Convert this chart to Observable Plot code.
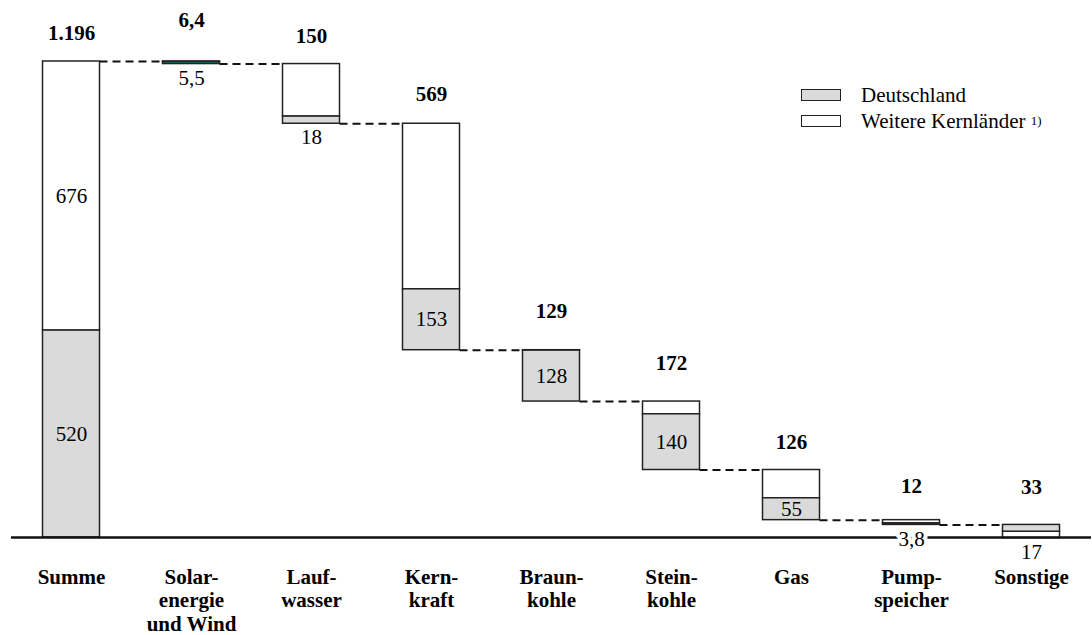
<!DOCTYPE html>
<html><head><meta charset="utf-8">
<script src="https://cdn.jsdelivr.net/npm/d3@7"></script>
<script src="https://cdn.jsdelivr.net/npm/@observablehq/plot@0.6"></script>
<style>
body{margin:0;background:#fff;}
#wrap{position:relative;width:1092px;height:635px;font-family:"Times New Roman",Times,Tinos,"Liberation Serif","Noto Serif","DejaVu Serif",serif;}
.legend{position:absolute;left:801px;top:82px;font-size:21px;color:#000;line-height:1;}
.item{display:flex;align-items:center;height:26px;}
.sw{width:40px;height:12px;border:1.6px solid #222;margin-right:20px;box-sizing:border-box;}
sup{font-size:0.62em;vertical-align:0.55em;}
</style>
</head><body>
<div id="wrap">
  <div id="chart"></div>
  <div class="legend">
    <div class="item"><div class="sw" style="background:#dadada"></div>Deutschland</div>
    <div class="item"><div class="sw" style="background:#fff"></div>Weitere Kernländer&nbsp;<sup>1)</sup></div>
  </div>
</div>
<script>
// ---- data ----
const categories = ["Summe", "Solar-\nenergie\nund Wind", "Lauf-\nwasser", "Kern-\nkraft", "Braun-\nkohle", "Stein-\nkohle", "Gas", "Pump-\nspeicher", "Sonstige"];
const totals      = [1196, 6.4, 150, 569, 129, 172, 126, 12, 33];
const deutschland = [520, 5.5, 18, 153, 128, 140, 55, 3.8, 17];
const weitere     = [676, 0.9, 132, 416, 1, 32, 71, 8.2, 16];
const greyOnTop   = ["Sonstige"];
const highlighted = ["Solar-\nenergie\nund Wind"];

// ---- layout constants ----
const labelLift = [28, 41, 28, 29, 39, 38, 28, 34, 38]; // px above bar top
const halfW = 0.2375; // half bar width in category units
const GREY = "#dadada", WHITE = "#ffffff", TEAL = "#1f7272";
const FONT = "'Times New Roman', Times, Tinos, 'Liberation Serif', 'Noto Serif', 'DejaVu Serif', serif";
const pxPerUnit = (635 - 98 - 61) / totals[0];

const fmt = v => v.toLocaleString("de-DE");

// build waterfall rows
let running = totals[0];
const rows = categories.map((c, i) => {
  let top, bottom;
  if (i === 0) { top = totals[0]; bottom = 0; }
  else { top = running; bottom = running - totals[i]; running = bottom; }
  return {i, cat: c, top, bottom, total: totals[i], de: deutschland[i], we: weitere[i], label: fmt(totals[i])};
});

const segments = [];
const innerLabels = [];
const belowLabels = [];
rows.forEach(r => {
  const onTop = greyOnTop.includes(r.cat);
  const deY1 = onTop ? r.top - r.de : r.bottom;
  const deY2 = onTop ? r.top : r.bottom + r.de;
  const weY1 = onTop ? r.bottom : r.bottom + r.de;
  const weY2 = onTop ? r.top - r.de : r.top;
  segments.push({x1: r.i - halfW, x2: r.i + halfW, y1: weY1, y2: weY2, fill: WHITE});
  segments.push({x1: r.i - halfW, x2: r.i + halfW, y1: deY1, y2: deY2, fill: highlighted.includes(r.cat) ? TEAL : GREY});
  if (r.de * pxPerUnit > 18) innerLabels.push({i: r.i, y: (deY1 + deY2) / 2, text: fmt(r.de)});
  else belowLabels.push({i: r.i, y: r.bottom, text: fmt(r.de)});
  if (r.i === 0) innerLabels.push({i: r.i, y: (weY1 + weY2) / 2, text: fmt(r.we)});
});

const connectors = rows.slice(0, -1).map((r, k) => ({
  x1: r.i + halfW, x2: rows[k + 1].i - halfW, y: rows[k + 1].top
}));

const chart = Plot.plot({
  width: 1092, height: 635,
  marginLeft: 11, marginRight: 1, marginTop: 61, marginBottom: 98,
  x: {type: "linear", domain: [-0.5, categories.length - 0.5], axis: null},
  y: {domain: [0, totals[0]], axis: null},
  color: {type: "identity"},
  style: {fontFamily: FONT, background: "white", color: "black"},
  marks: [
    Plot.ruleY(connectors, {y: "y", x1: "x1", x2: "x2", stroke: "#111", strokeWidth: 2, strokeDasharray: "8,5"}),
    Plot.rect(segments, {x1: "x1", x2: "x2", y1: "y1", y2: "y2", fill: "fill", stroke: "#222", strokeWidth: 1.5}),
    Plot.ruleY([0], {stroke: "#111", strokeWidth: 2.5}),
    Plot.text(innerLabels, {x: "i", y: "y", text: "text", fontSize: 21, fontFamily: FONT, fill: "black"}),
    Plot.text(belowLabels, {x: "i", y: "y", text: "text", fontSize: 21, fontFamily: FONT, fill: "black", dy: 14, stroke: "white", strokeWidth: 8}),
    ...rows.map((r, k) => Plot.text([r], {x: "i", y: "top", text: "label", fontSize: 21, fontFamily: FONT, fontWeight: "bold", fill: "black", dy: -labelLift[k]})),
    Plot.text(rows, {x: "i", y: 0, text: "cat", fontSize: 21, fontFamily: FONT, fontWeight: "bold", fill: "black", lineAnchor: "top", dy: 29, lineHeight: 1.14})
  ]
});
document.getElementById("chart").appendChild(chart);
</script>
</body></html>
